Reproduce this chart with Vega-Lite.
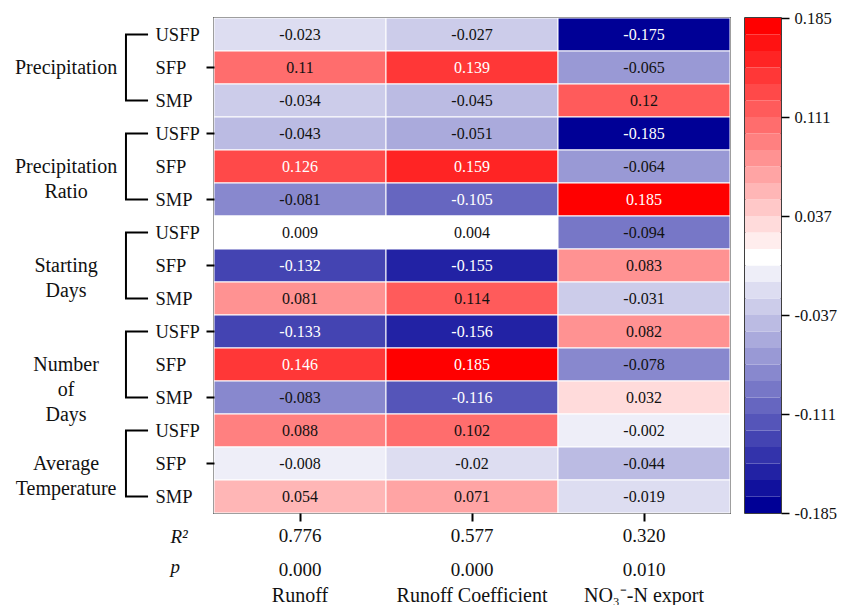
{
  "$schema": "https://vega.github.io/schema/vega-lite/v6.json",
  "background": "white",
  "padding": {"left": 0, "top": 9, "right": 0, "bottom": 0},
  "config": {
    "font": "Liberation Serif",
    "view": {"stroke": "black", "strokeWidth": 1.5},
    "axis": {"labelFont": "Liberation Serif", "labelColor": "#111", "titleFont": "Liberation Serif"},
    "text": {"font": "Liberation Serif", "color": "#111"}
  },
  "datasets": {
    "cells": [
      {"r": 1, "Runoff": -0.023, "Runoff Coefficient": -0.027, "NO3": -0.175},
      {"r": 2, "Runoff": 0.11, "Runoff Coefficient": 0.139, "NO3": -0.065},
      {"r": 3, "Runoff": -0.034, "Runoff Coefficient": -0.045, "NO3": 0.12},
      {"r": 4, "Runoff": -0.043, "Runoff Coefficient": -0.051, "NO3": -0.185},
      {"r": 5, "Runoff": 0.126, "Runoff Coefficient": 0.159, "NO3": -0.064},
      {"r": 6, "Runoff": -0.081, "Runoff Coefficient": -0.105, "NO3": 0.185},
      {"r": 7, "Runoff": 0.009, "Runoff Coefficient": 0.004, "NO3": -0.094},
      {"r": 8, "Runoff": -0.132, "Runoff Coefficient": -0.155, "NO3": 0.083},
      {"r": 9, "Runoff": 0.081, "Runoff Coefficient": 0.114, "NO3": -0.031},
      {"r": 10, "Runoff": -0.133, "Runoff Coefficient": -0.156, "NO3": 0.082},
      {"r": 11, "Runoff": 0.146, "Runoff Coefficient": 0.185, "NO3": -0.078},
      {"r": 12, "Runoff": -0.083, "Runoff Coefficient": -0.116, "NO3": 0.032},
      {"r": 13, "Runoff": 0.088, "Runoff Coefficient": 0.102, "NO3": -0.002},
      {"r": 14, "Runoff": -0.008, "Runoff Coefficient": -0.02, "NO3": -0.044},
      {"r": 15, "Runoff": 0.054, "Runoff Coefficient": 0.071, "NO3": -0.019}
    ],
    "groups": [
      {"g": "Precipitation", "first": 1, "mid": 2, "last": 3},
      {"g": "Precipitation\nRatio", "first": 4, "mid": 5, "last": 6},
      {"g": "Starting\nDays", "first": 7, "mid": 8, "last": 9},
      {"g": "Number\nof\nDays", "first": 10, "mid": 11, "last": 12},
      {"g": "Average\nTemperature", "first": 13, "mid": 14, "last": 15}
    ],
    "stats": [
      {"c": "Runoff", "r2": 0.776, "p": 0.0, "name": "Runoff"},
      {"c": "Runoff Coefficient", "r2": 0.577, "p": 0.0, "name": "Runoff Coefficient"},
      {"c": "NO3", "r2": 0.32, "p": 0.01, "name": "NO₃⁻-N export"}
    ],
    "bins": [
      {"lo": -0.185, "hi": -0.17267, "v": -0.17883},
      {"lo": -0.17267, "hi": -0.16033, "v": -0.1665},
      {"lo": -0.16033, "hi": -0.148, "v": -0.15417},
      {"lo": -0.148, "hi": -0.13567, "v": -0.14183},
      {"lo": -0.13567, "hi": -0.12333, "v": -0.1295},
      {"lo": -0.12333, "hi": -0.111, "v": -0.11717},
      {"lo": -0.111, "hi": -0.09867, "v": -0.10483},
      {"lo": -0.09867, "hi": -0.08633, "v": -0.0925},
      {"lo": -0.08633, "hi": -0.074, "v": -0.08017},
      {"lo": -0.074, "hi": -0.06167, "v": -0.06783},
      {"lo": -0.06167, "hi": -0.04933, "v": -0.0555},
      {"lo": -0.04933, "hi": -0.037, "v": -0.04317},
      {"lo": -0.037, "hi": -0.02467, "v": -0.03083},
      {"lo": -0.02467, "hi": -0.01233, "v": -0.0185},
      {"lo": -0.01233, "hi": 0, "v": -0.00617},
      {"lo": 0, "hi": 0.01233, "v": 0.00617},
      {"lo": 0.01233, "hi": 0.02467, "v": 0.0185},
      {"lo": 0.02467, "hi": 0.037, "v": 0.03083},
      {"lo": 0.037, "hi": 0.04933, "v": 0.04317},
      {"lo": 0.04933, "hi": 0.06167, "v": 0.0555},
      {"lo": 0.06167, "hi": 0.074, "v": 0.06783},
      {"lo": 0.074, "hi": 0.08633, "v": 0.08017},
      {"lo": 0.08633, "hi": 0.09867, "v": 0.0925},
      {"lo": 0.09867, "hi": 0.111, "v": 0.10483},
      {"lo": 0.111, "hi": 0.12333, "v": 0.11717},
      {"lo": 0.12333, "hi": 0.13567, "v": 0.1295},
      {"lo": 0.13567, "hi": 0.148, "v": 0.14183},
      {"lo": 0.148, "hi": 0.16033, "v": 0.15417},
      {"lo": 0.16033, "hi": 0.17267, "v": 0.1665},
      {"lo": 0.17267, "hi": 0.185, "v": 0.17883}
    ]
  },
  "bounds": "flush",
  "columns": 3,
  "spacing": {"row": 8, "column": 15},
  "concat": [
    {
      "width": 199,
      "height": 495,
      "view": {"stroke": null},
      "data": {"name": "groups"},
      "layer": [
        {
          "mark": {"type": "text", "fontSize": 20, "lineBreak": "\n", "lineHeight": 25, "align": "center", "baseline": "middle"},
          "encoding": {
            "y": {"field": "mid", "type": "ordinal", "scale": {"domain": [1,2,3,4,5,6,7,8,9,10,11,12,13,14,15]}, "axis": null},
            "x": {"datum": 0.332, "type": "quantitative", "scale": {"domain": [0, 1]}, "axis": null},
            "text": {"field": "g", "type": "nominal"}
          }
        },
        {
          "mark": {"type": "rule", "strokeWidth": 2, "color": "black"},
          "encoding": {
            "y": {"field": "first", "type": "ordinal", "scale": {"domain": [1,2,3,4,5,6,7,8,9,10,11,12,13,14,15]}, "axis": null},
            "y2": {"field": "last"},
            "x": {"datum": 0.633, "type": "quantitative", "scale": {"domain": [0, 1]}, "axis": null}
          }
        },
        {
          "mark": {"type": "rule", "strokeWidth": 2, "color": "black"},
          "encoding": {
            "y": {"field": "first", "type": "ordinal", "scale": {"domain": [1,2,3,4,5,6,7,8,9,10,11,12,13,14,15]}, "axis": null},
            "x": {"datum": 0.628, "type": "quantitative", "scale": {"domain": [0, 1]}, "axis": null},
            "x2": {"datum": 0.744}
          }
        },
        {
          "mark": {"type": "rule", "strokeWidth": 2, "color": "black"},
          "encoding": {
            "y": {"field": "last", "type": "ordinal", "scale": {"domain": [1,2,3,4,5,6,7,8,9,10,11,12,13,14,15]}, "axis": null},
            "x": {"datum": 0.628, "type": "quantitative", "scale": {"domain": [0, 1]}, "axis": null},
            "x2": {"datum": 0.744}
          }
        }
      ]
    },
    {
      "width": 516,
      "height": 495,
      "data": {"name": "cells"},
      "transform": [{"fold": ["Runoff", "Runoff Coefficient", "NO3"], "as": ["c", "v"]}],
      "encoding": {
        "y": {
          "field": "r", "type": "ordinal",
          "scale": {"domain": [1,2,3,4,5,6,7,8,9,10,11,12,13,14,15]},
          "axis": {
            "title": null, "domain": false, "grid": false,
            "tickSize": 8, "tickWidth": 2, "tickColor": "black",
            "tickOpacity": {"condition": {"test": "datum.value % 2 == 0", "value": 1}, "value": 0},
            "labelAlign": "left", "labelPadding": 51, "labelFontSize": 18.5,
            "labelExpr": "datum.value % 3 == 1 ? 'USFP' : (datum.value % 3 == 2 ? 'SFP' : 'SMP')"
          }
        },
        "x": {
          "field": "c", "type": "nominal",
          "scale": {"domain": ["Runoff", "Runoff Coefficient", "NO3"]},
          "axis": {"title": null, "labels": false, "domain": false, "grid": false, "tickSize": 8, "tickWidth": 2, "tickColor": "black"}
        }
      },
      "layer": [
        {
          "mark": {"type": "rect", "stroke": "white", "strokeWidth": 1},
          "encoding": {
            "color": {
              "field": "v", "type": "quantitative",
              "scale": {
                "type": "quantize", "domain": [-0.185, 0.185],
                "range": ["#000096", "#11119D", "#2222A4", "#3333AB", "#4444B2", "#5555B9", "#6666C0", "#7777C7", "#8888CE", "#9999D5", "#AAAADC", "#BBBBE3", "#CCCCEA", "#DDDDF1", "#EEEEF8", "#FFFFFF", "#FFEDED", "#FFDBDB", "#FFC8C8", "#FFB6B6", "#FFA4A4", "#FF9292", "#FF8080", "#FF6D6D", "#FF5B5B", "#FF4949", "#FF3737", "#FF2424", "#FF1212", "#FF0000"]
              },
              "legend": null
            }
          }
        },
        {
          "mark": {"type": "text", "fontSize": 16},
          "encoding": {
            "text": {"field": "v", "type": "nominal"},
            "color": {"condition": {"test": "datum.v >= 0.125 || datum.v <= -0.1", "value": "white"}, "value": "#111"}
          }
        }
      ]
    },
    {
      "width": 36,
      "height": 495,
      "data": {"name": "bins"},
      "mark": {"type": "rect"},
      "encoding": {
        "y": {
          "field": "lo", "type": "quantitative",
          "scale": {"domain": [-0.185, 0.185], "nice": false, "zero": false},
          "axis": {
            "orient": "right", "title": null, "grid": false, "domain": false,
            "values": [-0.185, -0.111, -0.037, 0.037, 0.111, 0.185],
            "tickSize": 8, "tickWidth": 1.5, "tickColor": "black",
            "labelFontSize": 16.5, "labelPadding": 5,
            "labelExpr": "datum.value < 0 ? '-' + format(-datum.value, '.3f') : format(datum.value, '.3f')"
          }
        },
        "y2": {"field": "hi"},
        "color": {
          "field": "v", "type": "quantitative",
          "scale": {
            "type": "quantize", "domain": [-0.185, 0.185],
            "range": ["#000096", "#11119D", "#2222A4", "#3333AB", "#4444B2", "#5555B9", "#6666C0", "#7777C7", "#8888CE", "#9999D5", "#AAAADC", "#BBBBE3", "#CCCCEA", "#DDDDF1", "#EEEEF8", "#FFFFFF", "#FFEDED", "#FFDBDB", "#FFC8C8", "#FFB6B6", "#FFA4A4", "#FF9292", "#FF8080", "#FF6D6D", "#FF5B5B", "#FF4949", "#FF3737", "#FF2424", "#FF1212", "#FF0000"]
          },
          "legend": null
        }
      }
    },
    {
      "width": 199,
      "height": 90,
      "view": {"stroke": null},
      "data": {"values": [{}]},
      "mark": {"type": "text"},
      "encoding": {"text": {"value": ""}}
    },
    {
      "width": 516,
      "height": 90,
      "view": {"stroke": null},
      "data": {"name": "stats"},
      "encoding": {
        "x": {"field": "c", "type": "nominal", "scale": {"domain": ["Runoff", "Runoff Coefficient", "NO3"]}, "axis": null}
      },
      "layer": [
        {
          "mark": {"type": "text", "fontSize": 19},
          "encoding": {
            "y": {
              "datum": "R2", "type": "nominal",
              "scale": {"domain": ["R2", "p", "name"]},
              "axis": {
                "title": null, "domain": false, "ticks": false, "grid": false,
                "labelAlign": "left", "labelPadding": 44, "labelFontStyle": "italic", "labelFontSize": 19,
                "labelExpr": "datum.value == 'R2' ? 'R²' : (datum.value == 'p' ? 'p' : '')"
              }
            },
            "text": {"field": "r2", "type": "quantitative", "format": ".3f"}
          }
        },
        {
          "mark": {"type": "text", "fontSize": 19, "dy": 4},
          "encoding": {
            "y": {"datum": "p", "type": "nominal"},
            "text": {"field": "p", "type": "quantitative", "format": ".3f"}
          }
        },
        {
          "mark": {"type": "text", "fontSize": 20},
          "encoding": {
            "y": {"datum": "name", "type": "nominal"},
            "text": {"field": "name", "type": "nominal"}
          }
        }
      ]
    },
    {
      "width": 36,
      "height": 90,
      "view": {"stroke": null},
      "data": {"values": [{}]},
      "mark": {"type": "text"},
      "encoding": {"text": {"value": ""}}
    }
  ]
}
